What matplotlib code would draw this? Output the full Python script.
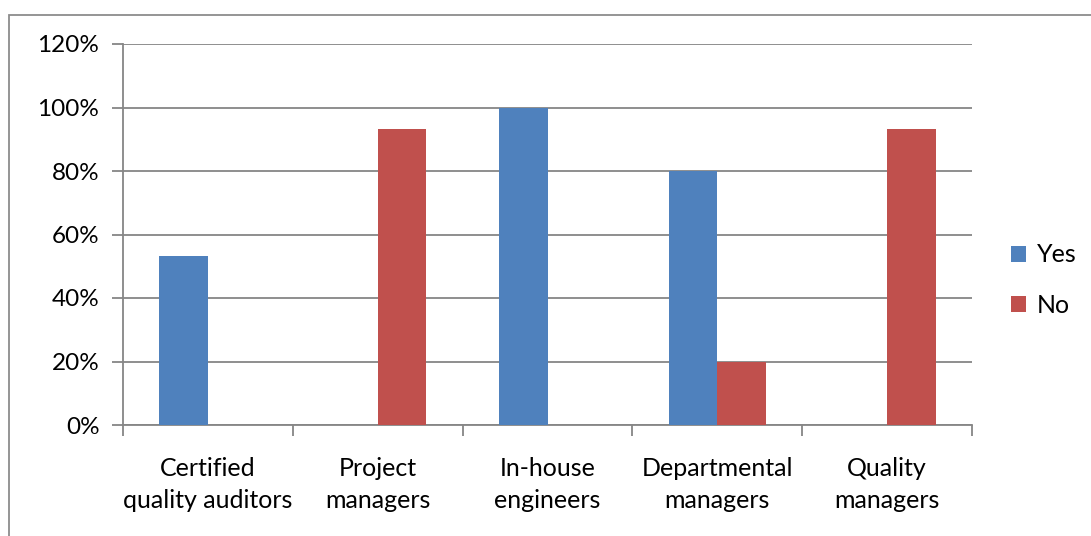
import matplotlib
matplotlib.use("Agg")
import matplotlib.pyplot as plt
from matplotlib.patches import Rectangle
from matplotlib.ticker import FixedLocator, NullFormatter
import numpy as np

categories = ["Certified\nquality auditors", "Project\nmanagers", "In-house\nengineers",
              "Departmental\nmanagers", "Quality\nmanagers"]
yes_values = [53.33, 0, 100, 80, 0]
no_values = [0, 93.33, 0, 20, 93.33]
series_names = ["Yes", "No"]
y_ticks = [0, 20, 40, 60, 80, 100, 120]

plt.rcParams["font.family"] = ["Lato", "DejaVu Sans"]

W, H = 1091, 536
fig = plt.figure(figsize=(W / 100, H / 100), dpi=100)
fig.patch.set_facecolor("white")

# outer chart frame (only top and left edges fall inside the canvas)
fig.patches.append(Rectangle((9 / W, -0.1), 1.2, 1 - 15 / H + 0.1, transform=fig.transFigure,
                             fill=False, edgecolor="#8c8c8c", linewidth=1.3))

ax = fig.add_axes([123 / W, (H - 425) / H, (972 - 123) / W, (425 - 44) / H])

grid_color = "#868686"
x = np.arange(len(categories))
width = 1 / 3.5
ax.bar(x - width / 2, yes_values, width, color="#4F81BD", label=series_names[0], zorder=3)
ax.bar(x + width / 2, no_values, width, color="#C0504D", label=series_names[1], zorder=3)

ax.set_xlim(-0.5, len(categories) - 0.5)
ax.set_ylim(0, 120)
ax.set_yticks(y_ticks)
ax.set_yticklabels([f"{v}%" for v in y_ticks], fontsize=17.5)
ax.yaxis.grid(True, color=grid_color, linewidth=1.3, zorder=0)
ax.set_axisbelow(True)

# category labels centred, tick marks on the category boundaries
ax.set_xticks(x)
ax.set_xticklabels(categories, fontsize=18, linespacing=1.5)
ax.tick_params(axis="x", which="major", length=0, pad=23)
ax.xaxis.set_minor_locator(FixedLocator(np.arange(-0.5, len(categories), 1.0)))
ax.xaxis.set_minor_formatter(NullFormatter())
ax.tick_params(axis="x", which="minor", length=8, width=1.3, color=grid_color, direction="out")
ax.tick_params(axis="y", length=8, width=1.3, color=grid_color, direction="out", pad=9)

for side in ["top", "right"]:
    ax.spines[side].set_visible(False)
for side in ["left", "bottom"]:
    ax.spines[side].set_color(grid_color)
    ax.spines[side].set_linewidth(1.3)

leg = ax.legend(loc="center left", bbox_to_anchor=(1.02, 0.38), frameon=False, fontsize=18,
                handlelength=0.6, handleheight=0.6, handletextpad=0.4, labelspacing=1.1)

fig.savefig("out.png", dpi=100, facecolor="white")
